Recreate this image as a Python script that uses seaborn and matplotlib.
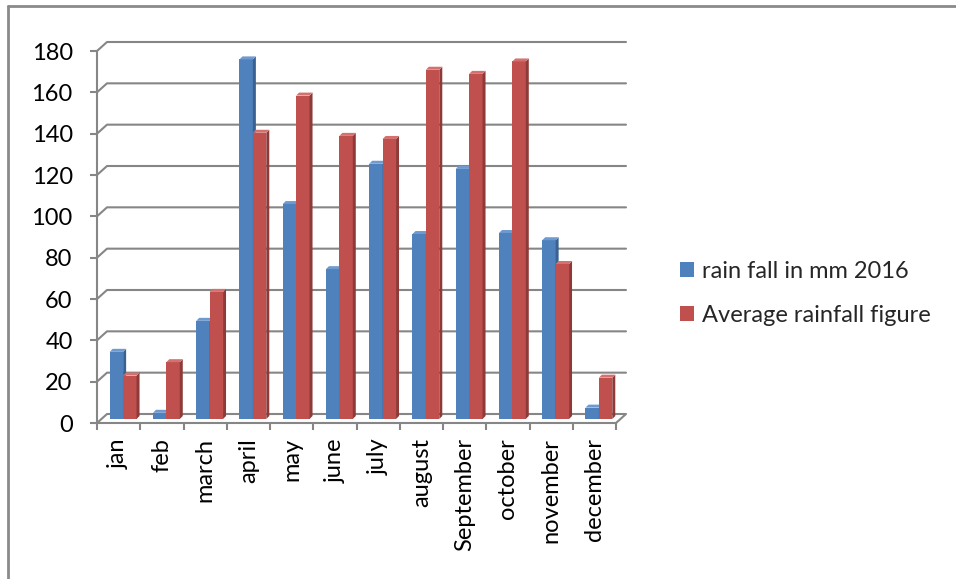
import numpy as np
import pandas as pd
import seaborn as sns
import matplotlib
matplotlib.use("Agg")
import matplotlib.pyplot as plt
from matplotlib.patches import Polygon, Patch
from matplotlib.lines import Line2D
from matplotlib.transforms import ScaledTranslation, IdentityTransform

# monthly rainfall (mm)
months = ["jan", "feb", "march", "april", "may", "june", "july",
          "august", "September", "october", "november", "december"]
rain_2016 = [32.5, 3, 47.5, 174, 104, 72.5, 123.5, 89.5, 121, 90, 86.5, 5.5]
avg_rain = [21, 27.5, 61.5, 138.5, 156.5, 137, 135.5, 169, 167, 173, 75, 20]
series = ["rain fall in mm 2016", "Average rainfall figure"]
yticks = list(range(0, 181, 20))

W, H, DPI = 956, 579, 100
FRONT = ["#4F81BD", "#C0504D"]
SIDE = ["#3A6190", "#8E3A38"]
TOP = ["#6E9AD0", "#D4716E"]
GRID = "#868686"
FS = 17

sns.set_theme(style="white")
plt.rcParams["font.family"] = ["Lato", "DejaVu Sans"]

fig = plt.figure(figsize=(W / DPI, H / DPI), dpi=DPI)
ax = fig.add_axes([97 / W, 1 - 423 / H, (616 - 97) / W, (423 - 51) / H])

df = pd.DataFrame({
    "month": months * 2,
    "value": rain_2016 + avg_rain,
    "series": [series[0]] * 12 + [series[1]] * 12,
})
sns.barplot(data=df, x="month", y="value", hue="series", palette=FRONT,
            width=0.62, saturation=1, linewidth=0, legend=False, ax=ax)
ax.set_xlim(-0.5, 11.5)
ax.set_ylim(0, 180)
ax.set_xlabel("")
ax.set_ylabel("")

# pseudo-3D: wall depth and bar placement in pixels
wall_dx, wall_dy = 10, 9
bar_dx, bar_dy = 4.5, 4
depth = 3

# back wall gridlines and floor
XL = ax.transData.transform((-0.5, 0))[0]
XR = ax.transData.transform((11.5, 0))[0]
for v in yticks:
    Y = ax.transData.transform((0, v))[1]
    xs = [XL, XL + wall_dx, XR + wall_dx]
    ys = [Y, Y + wall_dy, Y + wall_dy]
    if v == 0:
        xs.append(XR)
        ys.append(Y)
    ln = Line2D(xs, ys, color=GRID, lw=1.5, transform=IdentityTransform(),
                zorder=0.5)
    ln.set_clip_on(False)
    ax.add_line(ln)

# bars: front face shifted to mid-depth, plus side and top faces
shift = ScaledTranslation(bar_dx / DPI, bar_dy / DPI, fig.dpi_scale_trans)
patches = list(ax.patches)
n = len(months)
for k, p in enumerate(patches):
    s = k // n
    x0, y0 = p.get_x(), p.get_y()
    x1, y1 = x0 + p.get_width(), y0 + p.get_height()
    (X0, Y0), (X1, Y1) = ax.transData.transform([(x0, y0), (x1, y1)])
    X0 += bar_dx; X1 += bar_dx; Y0 += bar_dy; Y1 += bar_dy
    z = 2 + s
    p.set_transform(ax.transData + shift)
    p.set_zorder(z)
    p.set_clip_on(False)
    side = Polygon([(X1, Y0), (X1 + depth, Y0 + depth), (X1 + depth, Y1 + depth), (X1, Y1)],
                   closed=True, facecolor=SIDE[s], edgecolor="none",
                   transform=IdentityTransform(), zorder=z)
    top = Polygon([(X0, Y1), (X0 + depth, Y1 + depth), (X1 + depth, Y1 + depth), (X1, Y1)],
                  closed=True, facecolor=TOP[s], edgecolor="none",
                  transform=IdentityTransform(), zorder=z)
    for poly in (side, top):
        poly.set_clip_on(False)
        ax.add_patch(poly)

# axes styling
for sp in ["top", "right"]:
    ax.spines[sp].set_visible(False)
for sp in ["left", "bottom"]:
    ax.spines[sp].set_color(GRID)
    ax.spines[sp].set_linewidth(1.5)
ax.set_yticks(yticks)
ax.set_yticklabels([str(v) for v in yticks])
ax.set_xticks(range(n))
ax.set_xticklabels(months, rotation=90)
ax.set_xticks(np.arange(-0.5, n, 1.0), minor=True)
ax.tick_params(axis="y", which="major", length=5, width=1.5, color=GRID,
               pad=12.5, labelsize=FS, labelcolor="black", left=True)
ax.tick_params(axis="x", which="major", length=0, pad=11, labelsize=FS,
               labelcolor="black")
ax.tick_params(axis="x", which="minor", length=5, width=1.5, color=GRID,
               bottom=True)
ax.patch.set_alpha(0)

# legend
handles = [Patch(facecolor=FRONT[0], edgecolor="none"),
           Patch(facecolor=FRONT[1], edgecolor="none")]
fig.legend(handles, series, loc="center left",
           bbox_to_anchor=(680 / W, 1 - 293.5 / H), frameon=False,
           borderpad=0, borderaxespad=0, fontsize=FS,
           handlelength=0.6, handleheight=0.6, handletextpad=0.34,
           labelspacing=1.0)

# chart frame (top and left edges)
fig.add_artist(Line2D([8 / W, 8 / W], [0, 1 - 6 / H], color="#8a8a8a", lw=2,
                      transform=fig.transFigure))
fig.add_artist(Line2D([8 / W, 1], [1 - 6 / H, 1 - 6 / H], color="#8a8a8a", lw=2,
                      transform=fig.transFigure))

fig.savefig("out.png", dpi=DPI)
